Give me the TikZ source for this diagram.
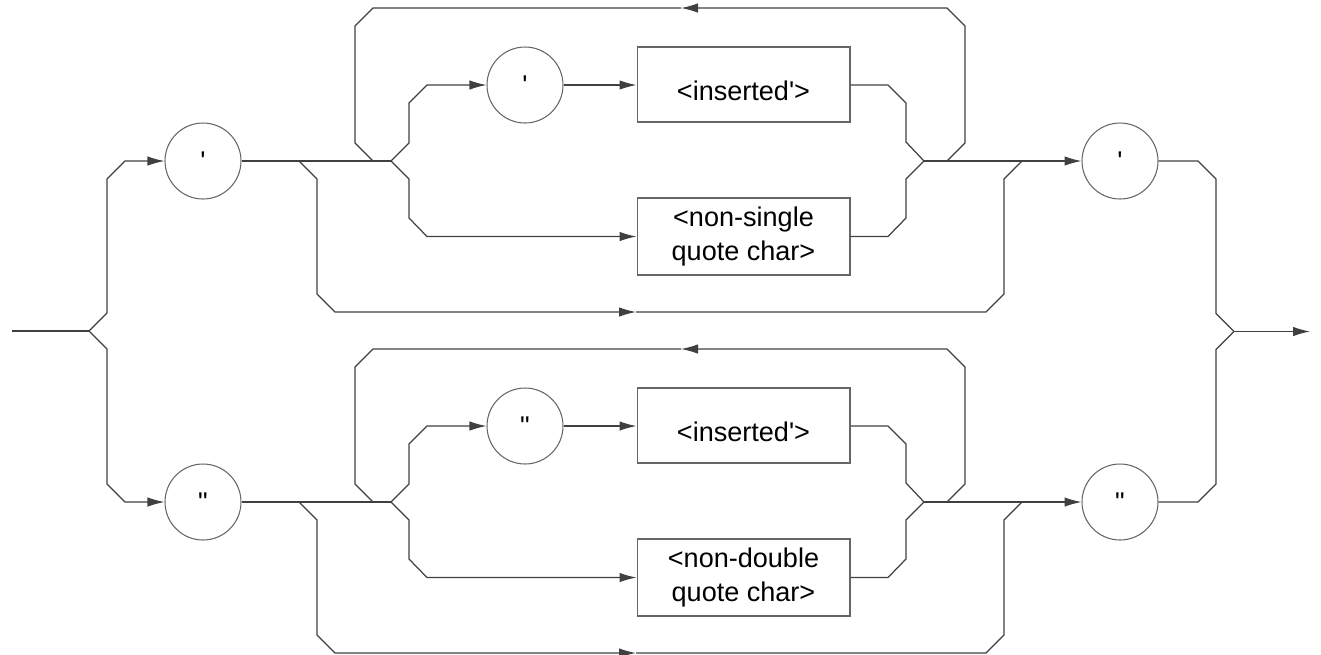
\documentclass[tikz,border=0pt]{standalone}
\usepackage{fontspec}
\setmainfont{Liberation Sans}[Ligatures=TeXOff]
\usetikzlibrary{arrows.meta}
\tikzset{
  ln/.style={draw=black!75, line width=0.7pt},
  ar/.style={ln, -{Latex[length=3.4mm,width=1.9mm]}},
  term/.style={circle, draw=black!60, line width=0.6pt, minimum size=1.52cm, inner sep=0pt,
    font=\fontsize{15.4}{17}\selectfont},
  ntbox/.style={rectangle, draw=black!60, line width=0.6pt, minimum width=4.26cm, inner sep=0pt,
    align=center, font=\fontsize{15.4}{19.9}\selectfont},
}
\newcommand\lowtext[1]{\raisebox{-3.5pt}[\height][\depth]{#1}}
\newcommand\rrsect[4]{% #1 prefix, #2 y shift, #3 quote, #4 second box text
\begin{scope}[shift={(0,#2)}]
  \node[term] (#1c) at (203,161) {#3};
  \node[term] (#1t) at (525,85) {#3};
  \node[ntbox, minimum height=1.5cm] (#1b) at (743.5,84.5) {\lowtext{<inserted'>}};
  \node[ntbox, minimum height=1.54cm] (#1n) at (743.5,236.5) {#4};
  \node[term] (#1e) at (1120,161) {#3};
  \coordinate (#1j) at (391,161);
  \coordinate (#1bs) at (299,161);
  \coordinate (#1lb) at (373,161);
  \coordinate (#1m) at (924,161);
  \coordinate (#1ls) at (947,161);
  \coordinate (#1be) at (1022,161);
  \coordinate (#1la) at (681,8);
  \coordinate (#1ba) at (636,312);
  % main line
  \draw[ln] (#1c.east) -- (#1j);
  % upper branch through inner quote
  \draw[ar] (#1j) -- (409,143) -- (409,103) -- (427,85) -- (#1t);
  \draw[ar] (#1t) -- (#1b.west |- #1t);
  % lower branch
  \draw[ar] (#1j) -- (409,179) -- (409,218) -- (427,236.5) -- (#1n.west);
  % merging
  \draw[ln] (#1b.east |- #1t) -- (888,85) -- (906,103) -- (906,142) -- (#1m);
  \draw[ln] (#1n.east) -- (888,236.5) -- (906,218) -- (906,179) -- (#1m);
  \draw[ar] (#1m) -- (#1e);
  % loop back
  \draw[ar] (#1ls) -- (965,143) -- (965,26) -- (947,8) -- (#1la);
  \draw[ln] (#1la) -- (373,8) -- (355,26) -- (355,143) -- (#1lb);
  % bypass
  \draw[ar] (#1bs) -- (317,179) -- (317,294) -- (335,312) -- (#1ba);
  \draw[ln] (#1ba) -- (986,312) -- (1004,294) -- (1004,179) -- (#1be);
\end{scope}}
\begin{document}
\begin{tikzpicture}[x=0.02cm, y=-0.02cm]
  \useasboundingbox (0,0) rectangle (1321,654);
  \rrsect{s}{0}{'}{<non-single\\quote char>}
  \rrsect{d}{341}{"}{<non-double\\quote char>}
  % entry
  \coordinate (in) at (12,331);
  \coordinate (split) at (89,331);
  \draw[ln] (in) -- (split);
  \draw[ar] (split) -- (107,313) -- (107,179) -- (125,161) -- (sc);
  \draw[ar] (split) -- (107,349) -- (107,484) -- (125,502) -- (dc);
  % exit
  \coordinate (join) at (1234,331.5);
  \coordinate (out) at (1310,331.5);
  \draw[ln] (se.east) -- (1198,161) -- (1216,179) -- (1216,313.5) -- (join);
  \draw[ln] (de.east) -- (1198,502) -- (1216,484) -- (1216,349.5) -- (join);
  \draw[ar] (join) -- (out);
\end{tikzpicture}
\end{document}
